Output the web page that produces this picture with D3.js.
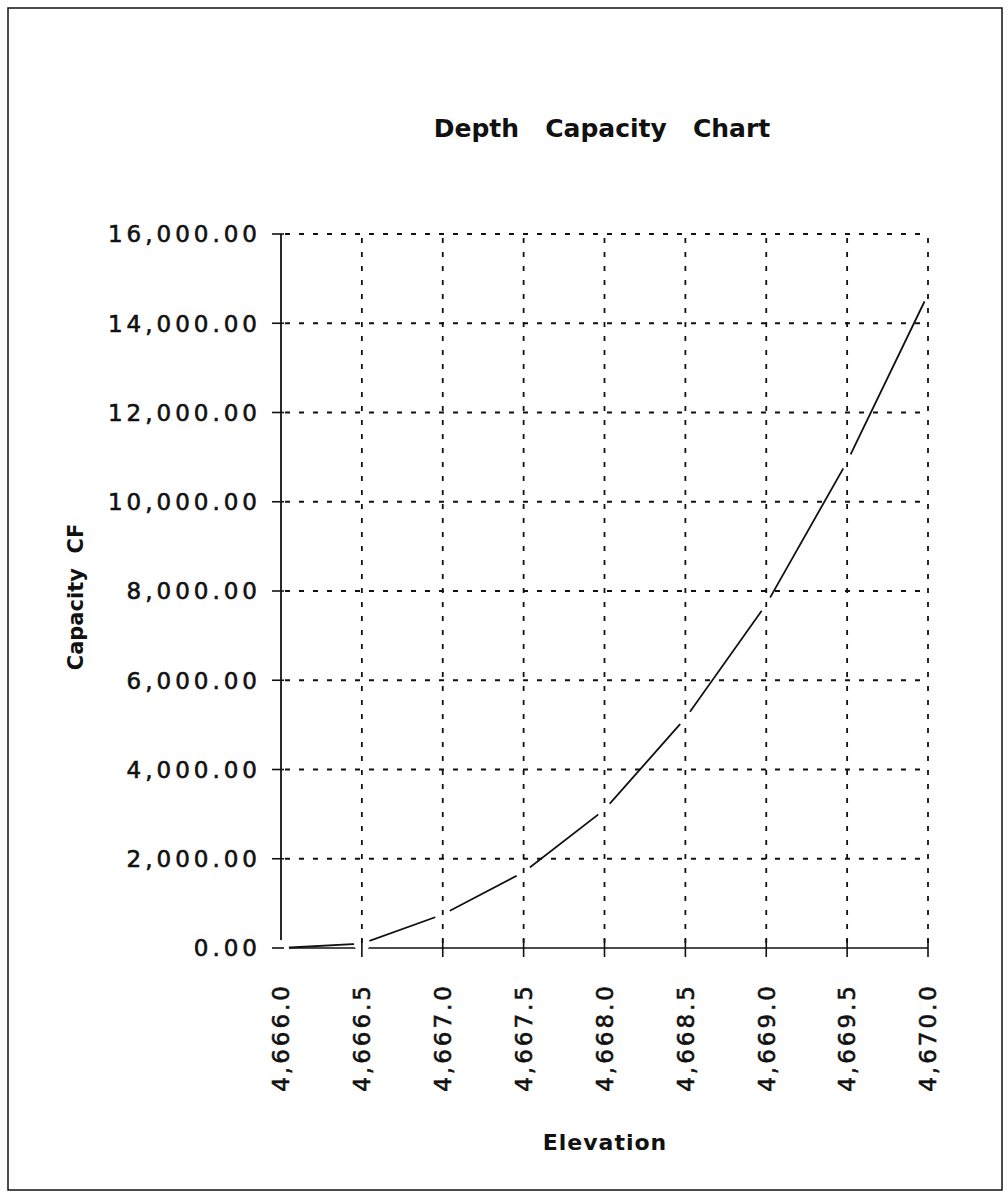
<!DOCTYPE html>
<html>
<head>
<meta charset="utf-8">
<script src="https://cdn.jsdelivr.net/npm/d3@7"></script>
<style>
  html, body { margin: 0; padding: 0; background: #fff; }
  svg { display: block; }
</style>
</head>
<body>
<svg id="chart" width="1008" height="1198"></svg>
<script>
// ---- data ----
const elevations = [4666.0, 4666.5, 4667.0, 4667.5, 4668.0, 4668.5, 4669.0, 4669.5, 4670.0];
const capacity   = [0, 100, 750, 1700, 3100, 5150, 7700, 10900, 14650];
const yTicks = [0, 2000, 4000, 6000, 8000, 10000, 12000, 14000, 16000];
const xTicks = [4666.0, 4666.5, 4667.0, 4667.5, 4668.0, 4668.5, 4669.0, 4669.5, 4670.0];
const title = "Depth   Capacity   Chart";
const xTitle = "Elevation";
const yTitle = "Capacity  CF";

(function () {
const svg = d3.select("#chart");
const ink = "#111";
const pL = 281, pR = 928, pT = 234, pB = 948;

const x = d3.scaleLinear().domain([4666, 4670]).range([pL, pR]);
const y = d3.scaleLinear().domain([0, 16000]).range([pB, pT]);
const fmtY = d3.format(",.2f");
const fmtX = d3.format(",.1f");

// outer frame
svg.append("rect").attr("x", 8).attr("y", 8).attr("width", 994).attr("height", 1182)
  .attr("fill", "none").attr("stroke", ink).attr("stroke-width", 1.5);

// title
svg.append("text").attr("x", 602).attr("y", 137).attr("text-anchor", "middle")
  .attr("font-family", "DejaVu Sans").attr("font-weight", "bold").attr("font-size", 25)
  .style("white-space", "pre").attr("fill", ink).text(title);

// axes lines
svg.append("line").attr("x1", pL).attr("x2", pL).attr("y1", pT).attr("y2", pB)
  .attr("stroke", ink).attr("stroke-width", 1.8);
svg.append("line").attr("x1", pL).attr("x2", pR).attr("y1", pB).attr("y2", pB)
  .attr("stroke", ink).attr("stroke-width", 1.6);

// data line
const line = d3.line().x((d, i) => x(elevations[i])).y(d => y(d));
svg.append("path").datum(capacity).attr("d", line)
  .attr("fill", "none").attr("stroke", ink).attr("stroke-width", 1.8);

// white markers (produce gaps at data points)
svg.append("g").selectAll("circle").data(capacity).join("circle")
  .attr("cx", (d, i) => x(elevations[i])).attr("cy", d => y(d)).attr("r", 8)
  .attr("fill", "#fff");

// gridlines
const grid = svg.append("g").attr("stroke", ink).attr("stroke-width", 1.8)
  .attr("stroke-dasharray", "5,9");
grid.selectAll("line.h").data(yTicks.filter(v => v > 0)).join("line")
  .attr("x1", pL + 4).attr("x2", pR).attr("y1", d => y(d)).attr("y2", d => y(d));
grid.selectAll("line.v").data(xTicks.filter(v => v > 4666)).join("line")
  .attr("x1", d => x(d)).attr("x2", d => x(d)).attr("y1", pT + 4).attr("y2", pB);

// ticks
svg.append("g").selectAll("line").data(yTicks).join("line")
  .attr("x1", pL - 9).attr("x2", pL + 3).attr("y1", d => y(d)).attr("y2", d => y(d))
  .attr("stroke", ink).attr("stroke-width", 1.6);
svg.append("g").selectAll("line").data(xTicks.filter(v => v > 4666)).join("line")
  .attr("x1", d => x(d)).attr("x2", d => x(d)).attr("y1", pB - 9).attr("y2", pB + 9)
  .attr("stroke", ink).attr("stroke-width", 1.6);

// y labels
svg.append("g").selectAll("text").data(yTicks).join("text")
  .attr("x", 261).attr("y", d => y(d)).attr("dy", "0.36em").attr("text-anchor", "end")
  .attr("font-family", "DejaVu Sans").attr("font-size", 23).attr("letter-spacing", 4)
  .attr("stroke", ink).attr("stroke-width", 0.6)
  .attr("fill", ink).text(d => fmtY(d));

// x labels
svg.append("g").selectAll("text").data(xTicks).join("text")
  .attr("transform", d => `translate(${x(d)},983) rotate(-90)`)
  .attr("dy", "0.36em").attr("text-anchor", "end")
  .attr("font-family", "DejaVu Sans").attr("font-size", 23).attr("letter-spacing", 3)
  .attr("stroke", ink).attr("stroke-width", 0.6)
  .attr("fill", ink).text(d => fmtX(d));

// axis titles
svg.append("text").attr("x", 605).attr("y", 1150).attr("text-anchor", "middle")
  .attr("font-family", "DejaVu Sans").attr("font-weight", "bold").attr("font-size", 22)
  .attr("letter-spacing", 1).attr("fill", ink).text(xTitle);
svg.append("text").attr("transform", "translate(83,597) rotate(-90)").attr("text-anchor", "middle")
  .attr("font-family", "DejaVu Sans").attr("font-weight", "bold").attr("font-size", 21)
  .style("white-space", "pre").attr("fill", ink).text(yTitle);
})();
</script>
</body>
</html>
